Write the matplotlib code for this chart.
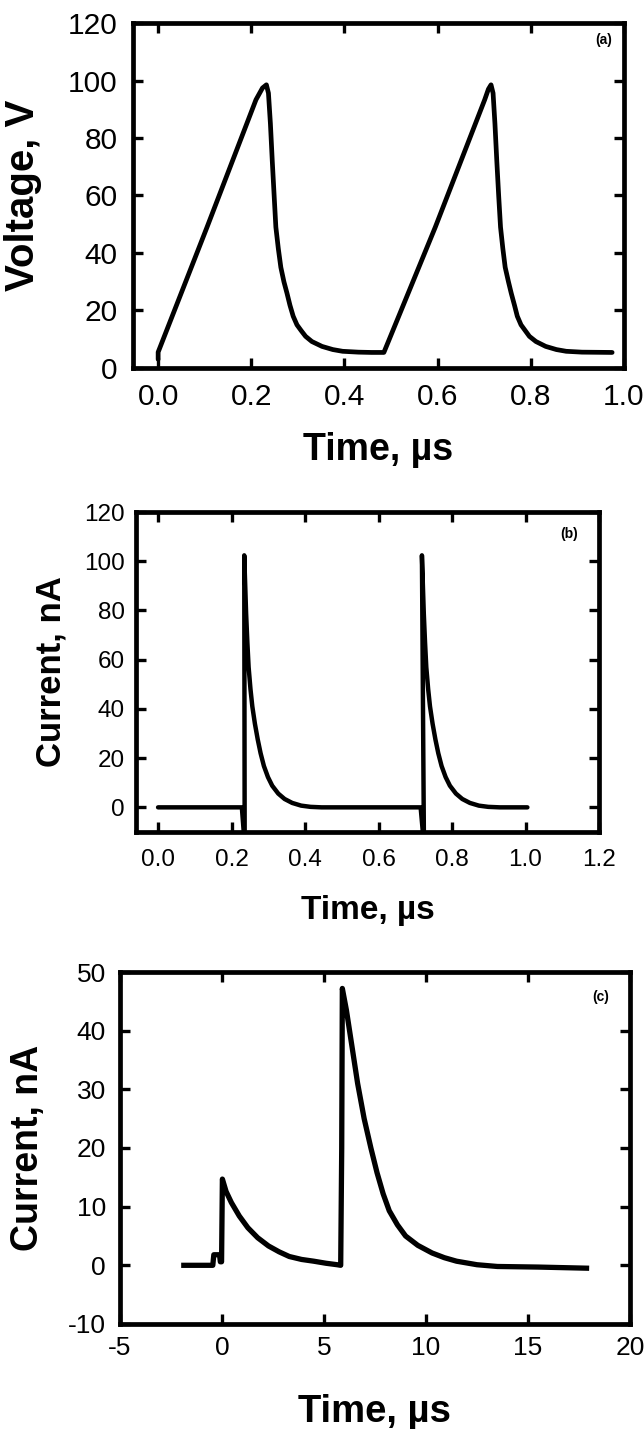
import matplotlib
matplotlib.use('Agg')
import matplotlib.pyplot as plt

plt.rcParams['font.family'] = ['Liberation Sans', 'DejaVu Sans']
plt.rcParams['axes.unicode_minus'] = False

# (a) voltage waveform
time_a = [0.0, 0.0, 0.105, 0.210, 0.224, 0.2324, 0.2368, 0.241, 0.245, 0.249, 0.2527, 0.258,
          0.2634, 0.27, 0.2766, 0.283, 0.2899, 0.298, 0.307, 0.3165, 0.33, 0.3518, 0.375,
          0.396, 0.43, 0.458, 0.4846,
          0.595, 0.701, 0.709, 0.7146, 0.719, 0.723, 0.727, 0.731, 0.735, 0.740,
          0.745, 0.752, 0.758, 0.765, 0.771, 0.779, 0.788, 0.797, 0.811, 0.832, 0.855,
          0.876, 0.91, 0.9746]
volt_a = [3.0, 5.5, 49.0, 93.3, 97.4, 98.5, 95.6, 85.0, 72.0, 60.0, 49.0, 41.5,
          35.0, 30.0, 26.0, 21.8, 18.0, 15.0, 13.0, 11.0, 9.2, 7.5, 6.4,
          5.8, 5.5, 5.4, 5.4,
          49.0, 93.3, 97.0, 98.5, 95.6, 85.0, 72.0, 60.0, 49.0, 41.5,
          35.0, 30.0, 26.0, 21.8, 18.0, 15.0, 13.0, 11.0, 9.2, 7.5, 6.4,
          5.8, 5.5, 5.4]

# (b) current waveform
time_b = [0.0, 0.228, 0.2357, 0.2345, 0.2396, 0.243, 0.2464, 0.2515, 0.2565, 0.2635, 0.2712,
          0.279, 0.288, 0.299, 0.3106, 0.327, 0.3443, 0.365, 0.3894, 0.415, 0.445,
          0.7145, 0.7235, 0.718, 0.7231, 0.7265, 0.7299, 0.735, 0.74, 0.747, 0.7547,
          0.7625, 0.7715, 0.7825, 0.7941, 0.8105, 0.8278, 0.8485, 0.8729, 0.8985, 0.93, 1.005]
curr_b = [0.0, 0.0, -15.0, 102.4, 78.8, 67.0, 57.0, 48.0, 41.0, 34.0, 27.6,
          22.0, 16.8, 12.3, 8.8, 5.6, 3.4, 1.8, 0.7, 0.2, 0.0,
          0.0, -15.0, 102.4, 78.8, 67.0, 57.0, 48.0, 41.0, 34.0, 27.6,
          22.0, 16.8, 12.3, 8.8, 5.6, 3.4, 1.8, 0.7, 0.2, 0.0, 0.0]

# (c) measured current
time_c = [-2.0, -0.45, -0.4, -0.12, -0.08, -0.02, 0.02, 0.2, 0.46, 0.85, 1.27, 1.75, 2.28,
          2.8, 3.3, 3.9, 4.5, 5.1, 5.65, 5.82, 5.87, 5.9, 6.1, 6.36, 6.65, 6.97, 7.3, 7.6,
          7.9, 8.2, 8.6, 9.0, 9.6, 10.3, 10.9, 11.5, 12.5, 13.5, 15.5, 18.0]
curr_c = [0.0, 0.0, 1.8, 1.8, 0.6, 0.6, 14.7, 12.6, 10.7, 8.4, 6.4, 4.7, 3.3,
          2.3, 1.5, 1.0, 0.7, 0.35, 0.1, 0.0, 20.0, 47.2, 43.5, 37.6, 31.0, 25.0, 20.0, 15.8,
          12.2, 9.3, 6.9, 5.0, 3.4, 2.1, 1.3, 0.7, 0.1, -0.2, -0.3, -0.5]

fig = plt.figure(figsize=(6.44, 14.29), dpi=100)
ax_a = fig.add_axes([0.2065, 0.7425, 0.7624, 0.2414])
ax_b = fig.add_axes([0.2112, 0.4178, 0.7190, 0.2239])
ax_c = fig.add_axes([0.1863, 0.0735, 0.7919, 0.2463])


def style(ax, tick_size, pad_x, pad_y):
    for s in ax.spines.values():
        s.set_linewidth(3.4)
    ax.tick_params(direction='in', top=True, right=True, length=7, width=2.4,
                   labelsize=tick_size)
    ax.tick_params(axis='x', pad=pad_x)
    ax.tick_params(axis='y', pad=pad_y)


ax_a.plot(time_a, volt_a, color='black', lw=3.4, solid_joinstyle='round',
          solid_capstyle='round')
ax_a.set_xlim(-0.054, 1.0)
ax_a.set_ylim(0, 120)
ax_a.set_xticks([0.0, 0.2, 0.4, 0.6, 0.8, 1.0])
ax_a.set_xticklabels(['0.0', '0.2', '0.4', '0.6', '0.8', '1.0'])
ax_a.set_yticks([0, 20, 40, 60, 80, 100, 120])
style(ax_a, 21.5, 11, 11)
ax_a.set_xlabel('Time, µs', fontsize=27, fontweight='bold', va='top')
ax_a.set_ylabel('Voltage, V', fontsize=29, fontweight='bold')
ax_a.xaxis.set_label_coords(0.5, -0.186)
ax_a.yaxis.set_label_coords(-0.185, 0.5)
ax_a.text(0.975, 0.95, '(a)', transform=ax_a.transAxes, ha='right', va='center',
          fontsize=10, fontweight='bold')

ax_b.plot(time_b, curr_b, color='black', lw=3.2, solid_joinstyle='round',
          solid_capstyle='round')
ax_b.set_xlim(-0.06, 1.2)
ax_b.set_ylim(-10, 120)
ax_b.set_xticks([0.0, 0.2, 0.4, 0.6, 0.8, 1.0, 1.2])
ax_b.set_xticklabels(['0.0', '0.2', '0.4', '0.6', '0.8', '1.0', '1.2'])
ax_b.set_yticks([0, 20, 40, 60, 80, 100, 120])
style(ax_b, 17.5, 12, 8)
ax_b.set_xlabel('Time, µs', fontsize=24, fontweight='bold', va='top')
ax_b.set_ylabel('Current, nA', fontsize=25, fontweight='bold')
ax_b.xaxis.set_label_coords(0.5, -0.197)
ax_b.yaxis.set_label_coords(-0.147, 0.5)
ax_b.text(0.955, 0.93, '(b)', transform=ax_b.transAxes, ha='right', va='center',
          fontsize=10, fontweight='bold')

ax_c.plot(time_c, curr_c, color='black', lw=3.8, solid_joinstyle='round',
          solid_capstyle='butt')
ax_c.set_xlim(-5, 20)
ax_c.set_ylim(-10, 50)
ax_c.set_xticks([-5, 0, 5, 10, 15, 20])
ax_c.set_yticks([-10, 0, 10, 20, 30, 40, 50])
style(ax_c, 19, 9, 10)
ax_c.set_xlabel('Time, µs', fontsize=27.5, fontweight='bold', va='top')
ax_c.set_ylabel('Current, nA', fontsize=27, fontweight='bold')
ax_c.xaxis.set_label_coords(0.5, -0.199)
ax_c.yaxis.set_label_coords(-0.146, 0.5)
ax_c.text(0.96, 0.93, '(c)', transform=ax_c.transAxes, ha='right', va='center',
          fontsize=10, fontweight='bold')

fig.savefig('out.png', dpi=100)
